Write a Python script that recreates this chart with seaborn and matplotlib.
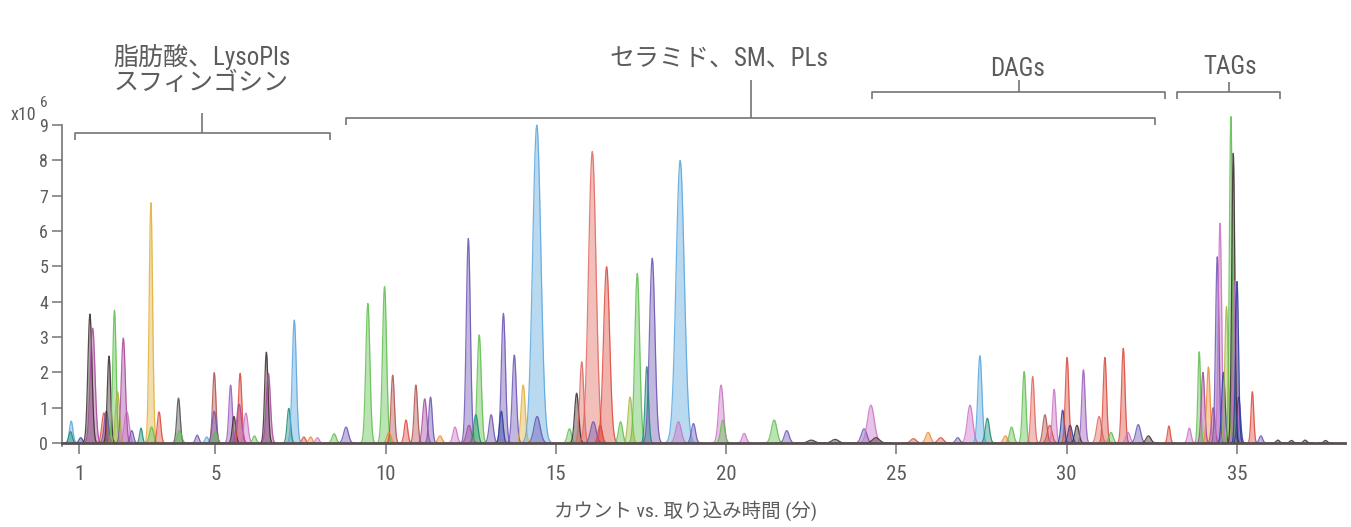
import numpy as np
import pandas as pd
import matplotlib
matplotlib.use("Agg")
import matplotlib.pyplot as plt
from matplotlib import font_manager
import seaborn as sns

# ---- peak table: retention time (min), apex counts (x10^6), peak sigma (min), trace colour ----
retention = [
    0.77, 0.75, 1.05, 1.32, 1.40, 1.73, 1.80, 1.88, 2.04, 2.13, 2.30, 2.40, 2.55, 2.82,
    3.11, 3.13, 3.35, 3.92, 3.95, 4.47, 4.75, 4.97, 4.97, 5.00, 5.45, 5.55, 5.73, 5.70,
    5.90, 6.15, 6.50, 6.56, 7.16, 7.32, 7.60, 7.80, 8.00, 8.49, 8.84,
    9.48, 9.97, 10.21, 10.10, 10.60, 10.89, 11.15, 11.32, 11.60, 12.04, 12.43, 12.45,
    12.75, 12.65, 13.10, 13.46, 13.40, 13.78, 14.04, 14.44, 14.45, 15.40, 15.61, 15.76,
    16.07, 16.10, 16.30, 16.49, 16.90, 17.18, 17.39, 17.67, 17.83, 18.65, 18.60, 19.04,
    19.85, 19.90, 20.53, 21.41, 21.78, 22.50, 23.20, 24.05, 24.25, 24.40,
    25.50, 25.93, 26.30, 26.80, 27.16, 27.45, 27.67, 28.20, 28.38, 28.75, 29.00, 29.36,
    29.50, 29.63, 29.88, 30.01, 30.10, 30.30, 30.49, 30.95, 31.12, 31.30, 31.66, 31.80,
    32.10, 32.40, 33.00, 33.60, 33.89, 34.00, 34.16, 34.30, 34.42, 34.50, 34.60, 34.69,
    34.82, 34.89, 34.95, 35.00, 35.05, 35.45, 35.70, 36.20, 36.60, 37.00, 37.60,
]
apex = [
    0.62, 0.32, 0.15, 3.65, 3.25, 0.85, 0.90, 2.46, 3.76, 1.45, 2.97, 0.90, 0.35, 0.42,
    6.80, 0.45, 0.88, 1.27, 0.35, 0.22, 0.17, 1.99, 0.90, 0.30, 1.64, 0.75, 1.97, 1.10,
    0.85, 0.20, 2.57, 1.97, 0.98, 3.48, 0.17, 0.17, 0.15, 0.26, 0.45,
    3.95, 4.43, 1.92, 0.30, 0.65, 1.64, 1.25, 1.30, 0.20, 0.45, 5.79, 0.50,
    3.06, 0.80, 0.80, 3.67, 0.90, 2.49, 1.64, 9.00, 0.75, 0.40, 1.41, 2.30,
    8.25, 0.60, 0.50, 4.99, 0.60, 1.30, 4.80, 2.16, 5.23, 8.00, 0.60, 0.55,
    1.64, 0.65, 0.27, 0.65, 0.35, 0.08, 0.10, 0.40, 1.07, 0.15,
    0.12, 0.30, 0.15, 0.15, 1.07, 2.47, 0.70, 0.20, 0.45, 2.02, 1.88, 0.80,
    0.50, 1.52, 0.93, 2.42, 0.50, 0.50, 2.07, 0.75, 2.42, 0.30, 2.68, 0.30,
    0.52, 0.20, 0.48, 0.42, 2.58, 2.00, 2.15, 1.00, 5.27, 6.22, 2.00, 3.86,
    9.24, 8.20, 4.60, 4.57, 1.30, 1.45, 0.20, 0.08, 0.07, 0.08, 0.07,
]
sigma = [
    0.05, 0.05, 0.05, 0.06, 0.07, 0.06, 0.06, 0.05, 0.05, 0.06, 0.06, 0.07, 0.05, 0.04,
    0.05, 0.06, 0.05, 0.05, 0.06, 0.05, 0.05, 0.05, 0.06, 0.06, 0.05, 0.05, 0.05, 0.07,
    0.06, 0.05, 0.05, 0.06, 0.05, 0.06, 0.05, 0.05, 0.05, 0.06, 0.07,
    0.06, 0.06, 0.05, 0.06, 0.05, 0.05, 0.06, 0.05, 0.06, 0.06, 0.06, 0.07,
    0.06, 0.06, 0.06, 0.06, 0.05, 0.06, 0.06, 0.12, 0.09, 0.06, 0.06, 0.06,
    0.11, 0.08, 0.06, 0.09, 0.06, 0.06, 0.07, 0.05, 0.08, 0.12, 0.08, 0.06,
    0.07, 0.06, 0.06, 0.08, 0.07, 0.10, 0.10, 0.08, 0.10, 0.10,
    0.08, 0.07, 0.08, 0.06, 0.08, 0.06, 0.06, 0.06, 0.06, 0.05, 0.05, 0.06,
    0.07, 0.05, 0.05, 0.05, 0.06, 0.06, 0.05, 0.07, 0.05, 0.06, 0.05, 0.06,
    0.07, 0.07, 0.04, 0.05, 0.04, 0.05, 0.05, 0.05, 0.05, 0.05, 0.05, 0.05,
    0.045, 0.045, 0.05, 0.045, 0.05, 0.04, 0.05, 0.05, 0.05, 0.05, 0.05,
]
trace = [
    "sky", "teal", "navy", "black", "magenta", "red", "purple", "black", "green", "olive", "magenta", "pink", "purple", "teal",
    "gold", "green", "red", "grey", "green", "purple", "sky", "maroon", "purple", "green", "violet", "black", "red", "magenta",
    "pink", "green", "black", "magenta", "teal", "sky", "red", "orange", "pink", "green", "purple",
    "green", "green", "maroon", "orange", "red", "maroon", "magenta", "purple", "orange", "pink", "purple", "magenta",
    "green", "teal", "purple", "purple", "navy", "purple", "gold", "sky", "purple", "green", "black", "salmon",
    "salmon", "purple", "red", "red", "green", "olive", "green", "teal", "purple", "sky", "pink", "purple",
    "pink", "green", "pink", "green", "purple", "black", "black", "purple", "pink", "black",
    "red", "orange", "red", "purple", "pink", "sky", "teal", "orange", "green", "green", "salmon", "maroon",
    "red", "pink", "navy", "red", "navy", "black", "violet", "salmon", "red", "green", "red", "pink",
    "purple", "black", "red", "pink", "green", "magenta", "orange", "magenta", "purple", "pink", "navy", "olive",
    "green", "black", "pink", "navy", "navy", "red", "purple", "black", "black", "black", "black",
]

x_ticks = [1, 5, 10, 15, 20, 25, 30, 35]
y_ticks = [0, 1, 2, 3, 4, 5, 6, 7, 8, 9]

# compound-class brackets: start, end, bracket level (x10^6), stem top
class_start = [0.88, 8.84, 24.28, 33.24]
class_end = [8.37, 32.59, 32.89, 36.26]
class_level = [8.77, 9.20, 9.93, 9.93]
class_stem_top = [9.34, 10.27, 10.27, 10.22]

trace_colors = {
    "sky": "#5aa6dc", "teal": "#1e8c78", "navy": "#2b3c9e", "black": "#3a2c2c",
    "magenta": "#a8489e", "red": "#dc4a3c", "purple": "#6c54b4", "green": "#5fbf4e",
    "olive": "#a6b83c", "pink": "#cc72c6", "gold": "#e2b03a", "grey": "#4f4f4f",
    "maroon": "#b2524e", "violet": "#9a5cbc", "orange": "#ee8a32", "salmon": "#e0675f",
}

# ---- fonts: a narrow Latin face, CJK fallback ----
sns.set_theme(style="white")
installed = {f.name for f in font_manager.fontManager.ttflist}
latin, stretch = "DejaVu Sans", "condensed"
for name in ("Roboto Condensed", "Archivo Narrow", "Barlow Semi Condensed"):
    if name in installed:
        latin, stretch = name, "normal"
        break
plt.rcParams["font.family"] = [latin, "Noto Sans CJK JP", "DejaVu Sans"]
plt.rcParams["font.stretch"] = stretch
text_color = "#5c5c5c"
axis_color = "#747474"

W, H = 1351, 527
fig = plt.figure(figsize=(W / 100, H / 100), dpi=100)
ax = fig.add_axes([62 / W, 80.5 / H, 1283 / W, 339.1 / H])

# ---- build peak traces ----
rows = []
for i, (rt, h, s, c) in enumerate(zip(retention, apex, sigma, trace)):
    t = np.linspace(rt - 4.5 * s, rt + 4.5 * s, 61)
    y = h * np.exp(-0.5 * ((t - rt) / s) ** 2)
    rows.append(pd.DataFrame({"time": t, "counts": y, "peak": f"p{i:03d}", "trace": c}))
peaks = pd.concat(rows, ignore_index=True)

for pid, grp in peaks.groupby("peak", sort=True):
    col = trace_colors[grp["trace"].iloc[0]]
    ax.fill_between(grp["time"], 0, grp["counts"], color=col, alpha=0.42, lw=0, zorder=2)

palette = {f"p{i:03d}": trace_colors[c] for i, c in enumerate(trace)}
sns.lineplot(data=peaks, x="time", y="counts", hue="peak", palette=palette,
             estimator=None, sort=False, legend=False, lw=0.9, alpha=0.85, ax=ax, zorder=3)

# ---- axes styling ----
ax.set_xlim(0.5, 38.17)
ax.set_ylim(-0.1, 9.5)
ax.set_xticks(x_ticks)
ax.set_yticks(y_ticks)
ax.set_xticklabels([str(v) for v in x_ticks])
ax.set_yticklabels([str(v) for v in y_ticks])
ax.set_xlabel("")
ax.set_ylabel("")
for side in ("top", "right"):
    ax.spines[side].set_visible(False)
ax.spines["left"].set_bounds(-0.08, 9)
ax.spines["left"].set_color(axis_color)
ax.spines["left"].set_linewidth(1.2)
ax.spines["bottom"].set_position(("data", 0))
ax.spines["bottom"].set_color("#5a5050")
ax.spines["bottom"].set_linewidth(2.0)
ax.spines["bottom"].set_zorder(4)
ax.tick_params(axis="y", direction="out", length=7, width=1.1, color=axis_color,
               labelsize=13, labelcolor=text_color, pad=3, left=True)
ax.tick_params(axis="x", direction="out", length=8, width=1.1, color=axis_color,
               labelsize=15, labelcolor=text_color, pad=8, bottom=True)
ax.grid(False)
ax.set_facecolor("white")

# ---- class brackets ----
bkw = dict(color=axis_color, lw=1.2, clip_on=False, zorder=5, solid_capstyle="butt")
for x0, x1, lv, top in zip(class_start, class_end, class_level, class_stem_top):
    drop = 0.2
    ax.plot([x0, x0, x1, x1], [lv - drop, lv, lv, lv - drop], **bkw)
    xm = (x0 + x1) / 2
    ax.plot([xm, xm], [lv, top], **bkw)

tkw = dict(color=text_color, fontsize=18, clip_on=False)
ax.text(2.0, 10.93, "脂肪酸、LysoPls", ha="left", va="center", **tkw)
ax.text(2.0, 10.2, "スフィンゴシン", ha="left", va="center", **tkw)
ax.text(19.79, 10.86, "セラミド、SM、PLs", ha="center", va="center", **tkw)
ax.text(28.57, 10.6, "DAGs", ha="center", va="center", **tkw)
ax.text(34.79, 10.64, "TAGs", ha="center", va="center", **tkw)

# ---- unit multiplier and axis title ----
fig.text(23 / W, 1 - 115 / H, "x10", ha="center", va="center", fontsize=13, color=text_color)
fig.text(44 / W, 1 - 103 / H, "6", ha="center", va="center", fontsize=11, color=text_color)
fig.text(686 / W, 1 - 511 / H, "カウント vs. 取り込み時間 (分)", ha="center", va="center",
         fontsize=14, color=text_color)

fig.savefig("out.png", dpi=100, facecolor="white")
